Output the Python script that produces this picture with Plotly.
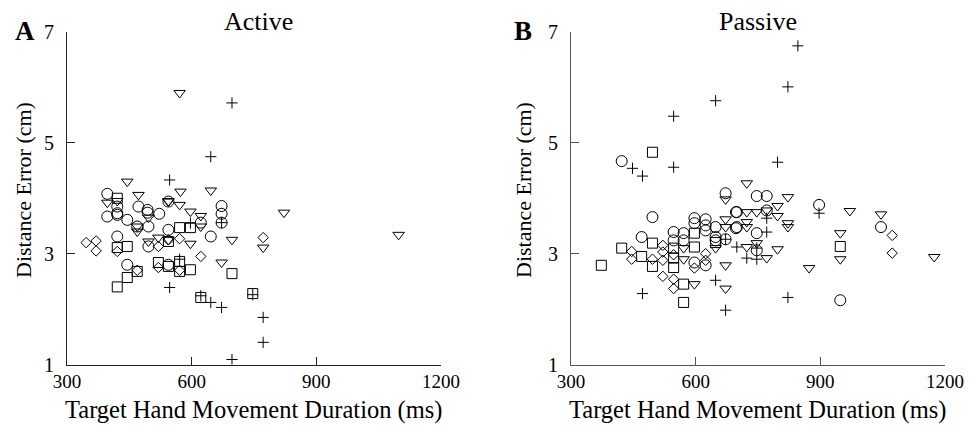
import plotly.graph_objects as go

# ---------------- data (Active) ----------------
act_circle_x = [397, 421, 397, 421, 421, 472, 445, 494, 494, 522, 469, 496, 544, 672, 672, 672, 622, 544, 646, 421, 496, 445, 544]
act_circle_y = [4.08, 3.85, 3.67, 3.70, 3.73, 3.85, 3.61, 3.79, 3.74, 3.72, 3.49, 3.49, 3.94, 3.86, 3.72, 3.56, 3.56, 3.43, 3.31, 3.31, 3.13, 2.80, 2.80]
act_square_x = [421, 571, 597, 544, 421, 445, 445, 421, 469, 520, 544, 571, 571, 597, 697, 622, 747]
act_square_y = [4.00, 3.47, 3.47, 3.22, 3.11, 3.13, 2.57, 2.40, 2.68, 2.84, 2.77, 2.86, 2.68, 2.71, 2.64, 2.21, 2.28]
act_diamond_x = [346, 370, 370, 421, 469, 520, 520, 571, 571, 622, 772, 544]
act_diamond_y = [3.20, 3.23, 3.05, 3.04, 2.70, 3.13, 2.75, 3.27, 2.70, 2.95, 3.29, 3.25]
act_tri_x = [571, 445, 573, 646, 472, 397, 421, 496, 469, 469, 544, 571, 597, 622, 622, 697, 597, 496, 520, 544, 672, 822, 1098, 772, 544]
act_tri_y = [5.90, 4.30, 4.12, 4.14, 4.06, 3.92, 3.95, 3.65, 3.49, 3.40, 3.94, 3.88, 3.76, 3.68, 3.49, 3.25, 3.18, 3.22, 3.29, 3.25, 2.84, 3.74, 3.34, 3.11, 3.95]
act_cross_x = [697, 646, 547, 597, 672, 571, 547, 622, 646, 672, 697, 747, 772, 772]
act_cross_y = [5.72, 4.75, 4.33, 3.55, 3.56, 2.90, 2.39, 2.24, 2.12, 2.03, 1.09, 2.26, 1.85, 1.40]

# ---------------- data (Passive) ----------------
pas_circle_x = [422, 747, 771, 897, 1046, 948, 771, 699, 699, 747, 747, 470, 496, 547, 547, 571, 571, 597, 597, 597, 624, 624, 624, 624, 648, 648, 648, 672, 672, 697, 697]
pas_circle_y = [4.67, 4.04, 4.04, 3.88, 3.48, 2.16, 3.78, 3.75, 3.48, 3.37, 3.06, 3.30, 3.66, 3.39, 3.24, 3.37, 3.24, 3.64, 3.55, 2.84, 3.62, 3.51, 3.42, 2.79, 3.48, 3.30, 3.24, 4.09, 3.26, 3.75, 3.46]
pas_square_x = [373, 422, 470, 496, 496, 496, 547, 547, 547, 571, 571, 597, 597, 648, 948]
pas_square_y = [2.79, 3.10, 2.95, 4.83, 3.19, 2.77, 3.10, 2.92, 2.75, 2.45, 2.12, 3.37, 3.12, 3.20, 3.13]
pas_diamond_x = [446, 446, 496, 521, 521, 521, 521, 547, 547, 547, 597, 624, 624, 1073, 1073]
pas_diamond_y = [3.04, 2.90, 2.90, 3.15, 3.03, 2.88, 2.59, 2.54, 2.37, 2.98, 2.74, 3.00, 2.88, 3.33, 3.01]
pas_tri_x = [723, 822, 971, 1046, 948, 948, 873, 1174, 797, 771, 797, 723, 723, 723, 822, 822, 747, 723, 771, 797, 571, 571, 597, 648, 672, 672, 672, 672, 672, 747]
pas_tri_y = [4.27, 4.02, 3.77, 3.71, 3.37, 2.90, 2.74, 2.94, 3.86, 3.78, 3.68, 3.75, 3.57, 3.48, 3.55, 3.48, 3.19, 3.12, 2.92, 3.08, 3.10, 2.90, 2.45, 3.10, 3.62, 3.48, 3.98, 2.79, 2.37, 3.75]
pas_cross_x = [846, 822, 648, 547, 797, 448, 472, 547, 897, 771, 771, 723, 699, 822, 472, 648, 672, 672, 747, 747]
pas_cross_y = [6.75, 6.01, 5.76, 5.48, 4.65, 4.54, 4.40, 4.56, 3.73, 3.64, 3.39, 2.92, 3.12, 2.21, 2.28, 2.52, 1.98, 3.26, 3.10, 2.90]

x_ticks = [300, 600, 900, 1200]
y_ticks = [1, 3, 5, 7]
panel_titles = ["Active", "Passive"]
panel_letters = ["A", "B"]
x_title = "Target Hand Movement Duration (ms)"
y_title = "Distance Error (cm)"

FONT = "Liberation Serif, Times New Roman, serif"
W, H = 970, 426

fig = go.Figure()

def add_set(xs, ys, symbol, size, xa, ya):
    fig.add_trace(go.Scatter(
        x=xs, y=ys, mode="markers", xaxis=xa, yaxis=ya, showlegend=False,
        marker=dict(symbol=symbol, size=size, color="black",
                    line=dict(color="black", width=1)),
    ))

for xa, ya, data in [
    ("x", "y", [(act_circle_x, act_circle_y, "circle-open", 11),
                (act_square_x, act_square_y, "square-open", 10),
                (act_diamond_x, act_diamond_y, "diamond-open", 8),
                (act_tri_x, act_tri_y, "triangle-down-open", 10),
                (act_cross_x, act_cross_y, "cross-thin-open", 8)]),
    ("x2", "y2", [(pas_circle_x, pas_circle_y, "circle-open", 11),
                  (pas_square_x, pas_square_y, "square-open", 10),
                  (pas_diamond_x, pas_diamond_y, "diamond-open", 8),
                  (pas_tri_x, pas_tri_y, "triangle-down-open", 10),
                  (pas_cross_x, pas_cross_y, "cross-thin-open", 8)]),
]:
    for xs, ys, sym, sz in data:
        add_set(xs, ys, sym, sz, xa, ya)

ydom = [1 - 364.5 / H, 1 - 32 / H]
xdom1 = [67 / W, 441 / W]
xdom2 = [571 / W, 945 / W]

def xaxis(dom, anchor, lc):
    return dict(domain=dom, anchor=anchor, range=[300, 1200], tickvals=x_ticks,
                ticktext=[str(v) for v in x_ticks], ticks="inside", ticklen=8,
                tickcolor=lc, showline=True, linecolor=lc, linewidth=1,
                showgrid=False, zeroline=False, automargin=False,
                tickfont=dict(family=FONT, size=19, color="black"))

def yaxis(anchor, lc):
    return dict(domain=ydom, anchor=anchor, range=[1, 7], tickvals=y_ticks,
                ticktext=[str(v) for v in y_ticks], ticks="inside", ticklen=8,
                tickcolor=lc, showline=True, linecolor=lc, linewidth=1,
                showgrid=False, zeroline=False, ticklabelstandoff=8, automargin=False,
                tickfont=dict(family=FONT, size=20, color="black"))

annotations = []
for i, (dom, tcx) in enumerate([(xdom1, 258), (xdom2, 758)]):
    cx = (dom[0] + dom[1]) / 2
    annotations.append(dict(text=x_title, x=cx, y=1 - 410 / H, xref="paper", yref="paper",
                            showarrow=False, xanchor="center", yanchor="middle",
                            font=dict(family=FONT, size=24.5, color="black")))
    annotations.append(dict(text=panel_titles[i], x=tcx / W, y=1 - 21 / H, xref="paper", yref="paper",
                            showarrow=False, xanchor="center", yanchor="middle",
                            font=dict(family=FONT, size=26, color="black")))
ytx = [23, 523]
lx = [25, 523]
for i in range(2):
    annotations.append(dict(text=y_title, x=ytx[i] / W, y=1 - 190 / H, xref="paper", yref="paper",
                            showarrow=False, xanchor="center", yanchor="middle", textangle=-90,
                            font=dict(family=FONT, size=22, color="black")))
    annotations.append(dict(text="<b>" + panel_letters[i] + "</b>", x=lx[i] / W, y=1 - 31 / H,
                            xref="paper", yref="paper", showarrow=False,
                            xanchor="center", yanchor="middle",
                            font=dict(family=FONT, size=27, color="black")))

fig.update_layout(
    width=W, height=H, margin=dict(l=0, r=0, t=0, b=0),
    paper_bgcolor="white", plot_bgcolor="white",
    xaxis=xaxis(xdom1, "y", "#222222"), yaxis=yaxis("x", "#222222"),
    xaxis2=xaxis(xdom2, "y2", "#555555"), yaxis2=yaxis("x2", "#555555"),
    annotations=annotations,
)

fig.write_html("out.html")
